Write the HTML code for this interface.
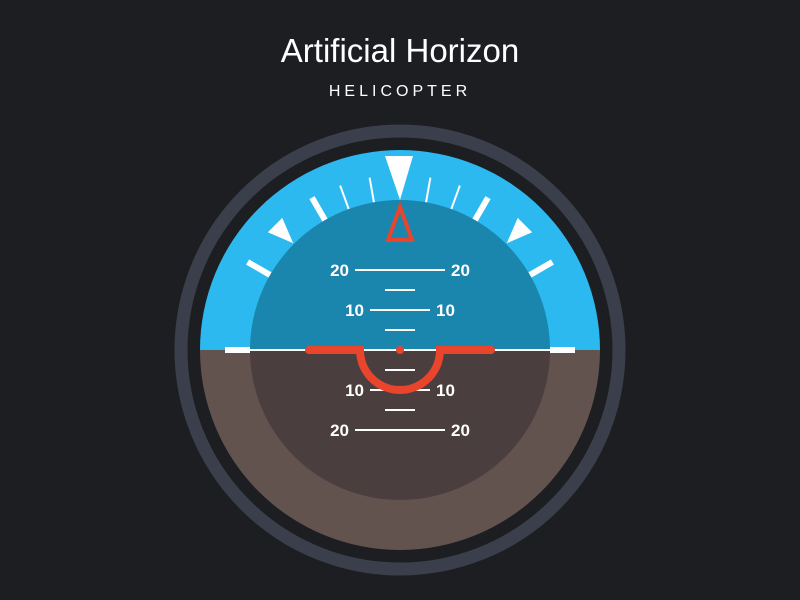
<!DOCTYPE html>
<html><head><meta charset="utf-8"><style>
html,body{margin:0;padding:0;background:#1c1e22;}
svg{display:block}
</style></head><body>
<svg id="c" width="800" height="600" viewBox="0 0 800 600">
<rect width="800" height="600" fill="#1c1e22"/>
<text x="400" y="62" text-anchor="middle" font-family="Liberation Sans, sans-serif" font-size="33" fill="#ffffff">Artificial Horizon</text>
<text x="400" y="96" text-anchor="middle" font-family="Liberation Sans, sans-serif" font-size="16" letter-spacing="4" fill="#ffffff">HELICOPTER</text>
<circle cx="400" cy="350" r="219" fill="none" stroke="#3a3f4b" stroke-width="13"/>
<defs><clipPath id="dial"><circle cx="400" cy="350" r="200"/></clipPath></defs>
<g clip-path="url(#dial)">
<rect x="200" y="150" width="400" height="200" fill="#2bb9ef"/>
<rect x="200" y="350" width="400" height="200" fill="#62534f"/>
</g>
<g id="bank"></g>
<clipPath id="inner"><circle cx="400" cy="350" r="150"/></clipPath>
<g clip-path="url(#inner)">
<rect x="250" y="200" width="300" height="150" fill="#1a85ad"/>
<rect x="250" y="350" width="300" height="150" fill="#4a3e3f"/>
</g>
<g id="pitch"></g>
<line x1="250" y1="350" x2="550" y2="350" stroke="#ffffff" stroke-width="2"/>
<rect x="225" y="347" width="25" height="6" fill="#ffffff"/>
<rect x="550" y="347" width="25" height="6" fill="#ffffff"/>
<polygon points="385,156 413,156 400,200" fill="#ffffff"/>
<polygon points="400,207 388,240 412,240" fill="none" stroke="#e8452c" stroke-width="4"/>
<g fill="none" stroke="#e8452c" stroke-width="8" stroke-linecap="round">
<path d="M309 350 H360 A40 40 0 0 0 440 350 H491"/>
</g>
<circle cx="400" cy="350" r="4" fill="#e8452c"/>
</svg>
<script>
const bankAngles=[-60,-45,-30,-20,-10,10,20,30,45,60];
const pitchLabels=[20,10,-10,-20];
const minorPitch=[15,5,-5,-15];
const cx=400,cy=350,ppd=4;
const NS='http://www.w3.org/2000/svg';
function yP(p){return cy-p*ppd;}
function pt(a,r){const t=a*Math.PI/180;return [cx+r*Math.sin(t),cy-r*Math.cos(t)];}
const bank=document.getElementById('bank');
bankAngles.forEach(a=>{
  const abs=Math.abs(a);
  let el;
  if(abs===45){
    el=document.createElementNS(NS,'polygon');
    const b1=pt(a-3.3,177),b2=pt(a+3.3,177),tp=pt(a,151);
    el.setAttribute('points',b1.join(',')+' '+b2.join(',')+' '+tp.join(','));
    el.setAttribute('fill','#fff');
  }else{
    el=document.createElementNS(NS,'line');
    const p1=pt(a,150),p2=pt(a,abs<=20?175:176);
    el.setAttribute('x1',p1[0]);el.setAttribute('y1',p1[1]);
    el.setAttribute('x2',p2[0]);el.setAttribute('y2',p2[1]);
    el.setAttribute('stroke','#fff');
    el.setAttribute('stroke-width',abs<=20?2:6);
  }
  
  
  bank.appendChild(el);
});
const pitch=document.getElementById('pitch');
function line(x1,x2,y){const l=document.createElementNS(NS,'line');
  l.setAttribute('x1',x1);l.setAttribute('x2',x2);l.setAttribute('y1',y);l.setAttribute('y2',y);
  l.setAttribute('stroke','#fff');l.setAttribute('stroke-width',2);return l;}
pitchLabels.forEach(p=>{
  const abs=Math.abs(p),y=yP(p),hw=abs>=20?45:30;
  const l=line(cx-hw,cx+hw,y);
  
  
  pitch.appendChild(l);
  [[cx-hw-6,'end'],[cx+hw+6,'start']].forEach(([x,anc])=>{
    const t=document.createElementNS(NS,'text');
    t.setAttribute('x',x);t.setAttribute('y',y+6);
    t.setAttribute('text-anchor',anc);
    t.setAttribute('font-family','Liberation Sans Narrow, Liberation Sans, sans-serif');
    t.setAttribute('font-weight','bold');t.setAttribute('font-size','17');
    t.setAttribute('fill','#fff');
    t.textContent=abs;
    
    
    pitch.appendChild(t);
  });
});
minorPitch.forEach(p=>{
  const l=line(cx-15,cx+15,yP(p));
  
  
  pitch.appendChild(l);
});
</script>
</body></html>
